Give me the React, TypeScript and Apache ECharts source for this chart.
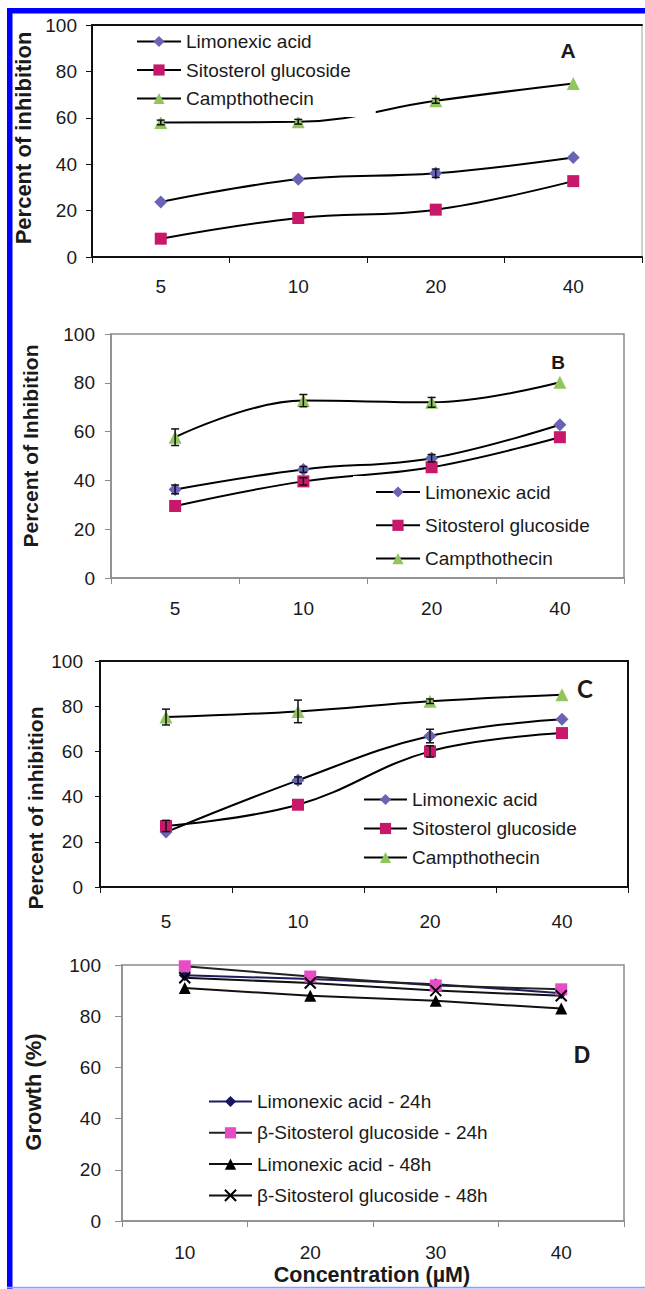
import React, { useEffect, useRef } from 'react';
import * as echarts from 'echarts';

// ---------- data ----------
const categoriesABC = ['5', '10', '20', '40'];
const categoriesD = ['10', '20', '30', '40'];

const namesABC = ['Limonexic acid', 'Sitosterol glucoside', 'Campthothecin'];
const namesD = [
  'Limonexic acid - 24h',
  'β-Sitosterol glucoside - 24h',
  'Limonexic acid - 48h',
  'β-Sitosterol glucoside - 48h',
];

// Panel A
const aLimonexic = [23.7, 33.5, 36.1, 42.9];
const aSitosterol = [7.9, 16.8, 20.4, 32.7];
const aCampto = [58.0, 58.3, 67.3, 74.8];
const aLimonexicErr = [0, 0, 1.8, 0];
const aSitosterolErr = [0, 0, 0, 0];
const aCamptoErr = [1, 1, 1, 0];

// Panel B
const bLimonexic = [36.3, 44.5, 49.1, 62.8];
const bSitosterol = [29.5, 39.6, 45.4, 57.7];
const bCampto = [57.7, 72.7, 72.0, 80.2];
const bLimonexicErr = [1.8, 1.2, 1.5, 0];
const bSitosterolErr = [0, 1.5, 0, 0];
const bCamptoErr = [3.4, 2.5, 2.0, 0];

// Panel C
const cLimonexic = [24.3, 47.2, 66.8, 74.2];
const cSitosterol = [27.0, 36.4, 60.0, 68.1];
const cCampto = [75.2, 77.7, 82.2, 85.1];
const cLimonexicErr = [0, 1.5, 3.0, 0];
const cSitosterolErr = [2.5, 0, 2.5, 0];
const cCamptoErr = [3.5, 5.0, 1.0, 0];

// Panel D
const dLim24 = [96.0, 94.5, 92.5, 89.0];
const dSito24 = [99.5, 95.5, 92.0, 90.5];
const dLim48 = [91.0, 88.0, 86.0, 83.0];
const dSito48 = [95.0, 93.0, 90.0, 88.0];

// ---------- styling ----------
const FONT = '"Liberation Sans", Arial, Helvetica, sans-serif';
const TXT = '#1a1a1a';
const C_DIAMOND = '#6a64b4';
const C_SQUARE = '#c8186a';
const C_TRIANGLE = '#93c55f';
const D_DIAMOND = '#16165e';
const D_SQUARE = '#e64cc4';
const X_PATH = 'path://M0,0L10,10M10,0L0,10';

function lineSeries(name: string, data: number[], xi: number, yi: number, symbol: string, color: string, size: any, smooth: any, lineColor = '#000', extra: any = {}) {
  return {
    type: 'line',
    name,
    data,
    xAxisIndex: xi,
    yAxisIndex: yi,
    symbol,
    symbolSize: size,
    showSymbol: true,
    smooth,
    lineStyle: { color: lineColor, width: 2 },
    itemStyle: { color, borderColor: color, borderWidth: 0, ...(extra.itemStyle || {}) },
    z: 3,
    emphasis: { disabled: true },
  };
}

function errBars(values: number[], errs: number[], xi: number, yi: number) {
  const data = values
    .map((v, i) => (errs[i] > 0 ? [i, v - errs[i], v + errs[i]] : null))
    .filter((d) => d !== null);
  return {
    type: 'custom',
    xAxisIndex: xi,
    yAxisIndex: yi,
    data,
    z: 5,
    silent: true,
    encode: { x: 0, y: [1, 2] },
    renderItem: (params: any, api: any) => {
      const x = api.value(0);
      const top = api.coord([x, api.value(2)]);
      const bot = api.coord([x, api.value(1)]);
      const w = 4;
      const st = { stroke: '#111', lineWidth: 1.5 };
      return {
        type: 'group',
        children: [
          { type: 'line', shape: { x1: top[0], y1: top[1], x2: bot[0], y2: bot[1] }, style: st },
          { type: 'line', shape: { x1: top[0] - w, y1: top[1], x2: top[0] + w, y2: top[1] }, style: st },
          { type: 'line', shape: { x1: bot[0] - w, y1: bot[1], x2: bot[0] + w, y2: bot[1] }, style: st },
        ],
      };
    },
  };
}

function xAx(gridIndex: number, data: string[], color: string, width: number, margin: number, tickLen: number) {
  return {
    type: 'category',
    gridIndex,
    data,
    boundaryGap: true,
    axisLine: { show: true, lineStyle: { color, width } },
    axisTick: { show: true, interval: 0, alignWithLabel: false, inside: false, length: tickLen, lineStyle: { color, width: 1 } },
    axisLabel: { show: true, interval: 0, fontSize: 19, lineHeight: 19, color: TXT, margin, fontFamily: FONT },
    splitLine: { show: false },
  };
}

function yAx(gridIndex: number, color: string, width: number, margin: number, tickLen: number) {
  return {
    type: 'value',
    gridIndex,
    min: 0,
    max: 100,
    interval: 20,
    axisLine: { show: true, lineStyle: { color, width } },
    axisTick: { show: true, inside: false, length: tickLen, lineStyle: { color, width: 1 } },
    axisLabel: { show: true, fontSize: 19, color: TXT, margin, fontFamily: FONT },
    splitLine: { show: false },
  };
}

function legend(data: string[], left: number, top: number, itemGap: number, padding: number[], itemWidth: number) {
  return {
    show: true,
    orient: 'vertical',
    left,
    top,
    data,
    itemGap,
    itemWidth,
    itemHeight: 14,
    padding,
    backgroundColor: '#fff',
    selectedMode: false,
    textStyle: { fontSize: 19, lineHeight: 19, color: TXT, fontFamily: FONT },
  };
}

function vText(text: string, x: number, y: number, size: number) {
  return {
    type: 'text',
    x,
    y,
    rotation: Math.PI / 2,
    silent: true,
    style: {
      text,
      font: `bold ${size}px ${FONT}`,
      fill: TXT,
      align: 'center',
      verticalAlign: 'middle',
      textAlign: 'center',
      textVerticalAlign: 'middle',
    },
  };
}

function hText(text: string, x: number, y: number, font: string) {
  return {
    type: 'text',
    x,
    y,
    silent: true,
    style: {
      text,
      font,
      fill: TXT,
      align: 'center',
      verticalAlign: 'middle',
      textAlign: 'center',
      textVerticalAlign: 'middle',
    },
  };
}

export default function App() {
  const ref = useRef<HTMLDivElement>(null);
  useEffect(() => {
    if (!ref.current) return;
    const chart = echarts.init(ref.current, undefined, { renderer: 'svg' });
    const GRID = { show: true, backgroundColor: 'transparent', containLabel: false, outerBoundsMode: 'none' };
    const option: any = {
      animation: false,
      backgroundColor: '#fff',
      textStyle: { fontFamily: FONT },
      grid: [
        { ...GRID, left: 92, top: 25, width: 550, height: 232, borderColor: '#a0a0a0', borderWidth: 1 },
        { ...GRID, left: 111, top: 334, width: 513, height: 244, borderColor: '#8c8c8c', borderWidth: 1.5 },
        { ...GRID, left: 100, top: 661, width: 528, height: 226, borderColor: '#111', borderWidth: 2 },
        { ...GRID, left: 122, top: 965, width: 502, height: 256, borderColor: '#8c8c8c', borderWidth: 1.5 },
      ],
      xAxis: [
        xAx(0, categoriesABC, '#111', 2, 20, 6),
        xAx(1, categoriesABC, '#8c8c8c', 1.5, 20.5, 6),
        xAx(2, categoriesABC, '#111', 2, 24.5, 6),
        xAx(3, categoriesD, '#8c8c8c', 1.5, 21.5, 6),
        {
          type: 'category',
          gridIndex: 0,
          position: 'top',
          data: categoriesABC,
          axisLine: { show: true, lineStyle: { color: '#111', width: 2 } },
          axisTick: { show: false },
          axisLabel: { show: false },
          splitLine: { show: false },
        },
      ],
      yAxis: [
        yAx(0, '#111', 2, 15, 6),
        yAx(1, '#8c8c8c', 1.5, 16, 6),
        yAx(2, '#111', 2, 17, 5),
        yAx(3, '#8c8c8c', 1.5, 21, 7),
      ],
      legend: [
        legend(namesABC, 130, 26, 9.5, [6, 25, 9, 6], 44),
        legend(namesABC, 353, 476, 14.3, [6.5, 10, 6, 22], 44),
        legend(namesABC, 358, 785, 10, [5, 10, 5, 5], 43),
        legend(namesD, 203, 1087, 12.3, [5, 10, 5, 5], 43),
      ],
      series: [
        // A
        lineSeries(namesABC[0], aLimonexic, 0, 0, 'diamond', C_DIAMOND, 13, 0.4),
        lineSeries(namesABC[1], aSitosterol, 0, 0, 'rect', C_SQUARE, 12, 0.4),
        lineSeries(namesABC[2], aCampto, 0, 0, 'triangle', C_TRIANGLE, 13, 0.4),
        errBars(aLimonexic, aLimonexicErr, 0, 0),
        errBars(aSitosterol, aSitosterolErr, 0, 0),
        errBars(aCampto, aCamptoErr, 0, 0),
        // B
        lineSeries(namesABC[0], bLimonexic, 1, 1, 'diamond', C_DIAMOND, 13, 0.4),
        lineSeries(namesABC[1], bSitosterol, 1, 1, 'rect', C_SQUARE, 12, 0.4),
        lineSeries(namesABC[2], bCampto, 1, 1, 'triangle', C_TRIANGLE, 13, 0.4),
        errBars(bLimonexic, bLimonexicErr, 1, 1),
        errBars(bSitosterol, bSitosterolErr, 1, 1),
        errBars(bCampto, bCamptoErr, 1, 1),
        // C
        lineSeries(namesABC[0], cLimonexic, 2, 2, 'diamond', C_DIAMOND, 13, 0.4),
        lineSeries(namesABC[1], cSitosterol, 2, 2, 'rect', C_SQUARE, 12, 0.4),
        lineSeries(namesABC[2], cCampto, 2, 2, 'triangle', C_TRIANGLE, 13, 0.4),
        errBars(cLimonexic, cLimonexicErr, 2, 2),
        errBars(cSitosterol, cSitosterolErr, 2, 2),
        errBars(cCampto, cCamptoErr, 2, 2),
        // D
        lineSeries(namesD[0], dLim24, 3, 3, 'diamond', D_DIAMOND, 12, false, '#1c1c5c'),
        lineSeries(namesD[1], dSito24, 3, 3, 'rect', D_SQUARE, 12, false, '#222'),
        lineSeries(namesD[2], dLim48, 3, 3, 'triangle', '#000', 12, false, '#111'),
        lineSeries(namesD[3], dSito48, 3, 3, X_PATH, '#000', 11, false, '#111', {
          itemStyle: { borderColor: '#000', borderWidth: 2 },
        }),
      ],
      graphic: [
        // blue frame
        { type: 'rect', silent: true, shape: { x: 7, y: 8, width: 5.5, height: 1281 }, style: { fill: '#0000ff' } },
        { type: 'rect', silent: true, shape: { x: 7, y: 8, width: 638, height: 5.5 }, style: { fill: '#0000ff' } },
        { type: 'rect', silent: true, shape: { x: 7, y: 1286.8, width: 638, height: 1.6 }, style: { fill: '#9b9bff' } },
        // axis titles
        vText('Percent of inhibition', 23, 138, 22),
        vText('Percent of Inhibition', 30, 446, 21),
        vText('Percent of inhibition', 35, 808, 21),
        vText('Growth (%)', 33, 1092, 22),
        hText('Concentration (µM)', 372, 1275, `bold 21.5px ${FONT}`),
        // panel letters
        hText('A', 568, 50, `bold 21px ${FONT}`),
        hText('B', 558, 362, `bold 19px ${FONT}`),
        hText('C', 585, 688, `bold 24px Lato, ${FONT}`),
        hText('D', 582, 1055, `bold 23px ${FONT}`),
      ],
    };
    chart.setOption(option);
    return () => chart.dispose();
  }, []);
  return (
    <div
      ref={ref}
      style={{ position: 'absolute', left: 0, top: 0, width: 645, height: 1289, background: '#fff' }}
    />
  );
}
